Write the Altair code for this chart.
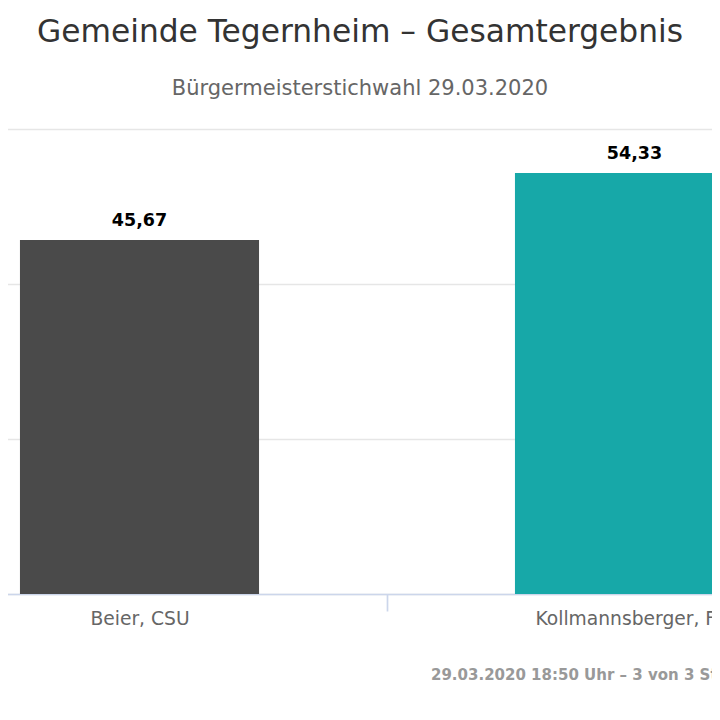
import altair as alt
import pandas as pd

candidates = ["Beier, CSU", "Kollmannsberger, FW"]
shares = [45.67, 54.33]
colors = ["#4a4a4a", "#17a8a8"]
y_ticks = [0, 20, 40, 60]
title_text = "Gemeinde Tegernheim – Gesamtergebnis"
subtitle_text = "Bürgermeisterstichwahl 29.03.2020"
credits_text = ["29.03.2020 18:50 Uhr – 3 von 3 Stimmbezirken ausgezählt"]

df = pd.DataFrame({"kandidat": candidates, "anteil": shares, "farbe": colors})
cred = pd.DataFrame({"t": credits_text})

FONT = "DejaVu Sans"
W, H = 704, 465

x_enc = alt.X(
    "kandidat:N",
    sort=candidates,
    title=None,
    scale=alt.Scale(range=[-116, 874], paddingInner=0, paddingOuter=0),
    axis=alt.Axis(
        labelAngle=0,
        labelFont=FONT,
        labelFontSize=18.7,
        labelColor="#666666",
        labelPadding=-2,
        labelLimit=0,
        labelOverlap=False,
        domainColor="#ccd6eb",
        domainWidth=1.7,
        tickColor="#ccd6eb",
        tickWidth=1.7,
        tickSize=17,
        tickBand="extent",
        grid=False,
    ),
)
y_enc = alt.Y(
    "anteil:Q",
    title=None,
    scale=alt.Scale(domain=[0, 60], nice=False),
    axis=alt.Axis(
        values=y_ticks,
        labels=False,
        ticks=False,
        domain=False,
        grid=True,
        gridColor="#e6e6e6",
        gridWidth=1.7,
    ),
)

bars = alt.Chart(df).mark_bar(width=alt.RelativeBandSize(0.483)).encode(
    x=x_enc,
    y=y_enc,
    color=alt.Color("farbe:N", scale=None, legend=None),
)

labels = alt.Chart(df).transform_calculate(
    lbl="replace(format(datum.anteil, '.2f'), '.', ',')"
).mark_text(
    font=FONT, fontSize=17.5, fontWeight="bold", color="#000000",
    baseline="alphabetic", dy=-14,
).encode(
    x=alt.X("kandidat:N", sort=candidates),
    y=alt.Y("anteil:Q"),
    text="lbl:N",
)

credits = alt.Chart(cred).mark_text(
    font=FONT, fontSize=15, fontWeight="bold", color="#999999",
    align="left", baseline="alphabetic",
).encode(
    x=alt.value(423),
    y=alt.value(551),
    text="t:N",
)

chart = alt.layer(bars, labels, credits).properties(
    width=W,
    height=H,
    title=alt.TitleParams(
        text=title_text,
        subtitle=subtitle_text,
        anchor="middle",
        font=FONT,
        fontSize=31.3,
        fontWeight="normal",
        color="#333333",
        subtitleFont=FONT,
        subtitleFontSize=21,
        subtitleColor="#666666",
        subtitlePadding=30,
        offset=30,
    ),
    padding={"left": 0, "top": 121, "right": 0, "bottom": 126},
    autosize=alt.AutoSizeParams(type="none"),
).configure_view(stroke=None)

chart.save("out.html", embed_options={"renderer": "svg", "actions": False})
